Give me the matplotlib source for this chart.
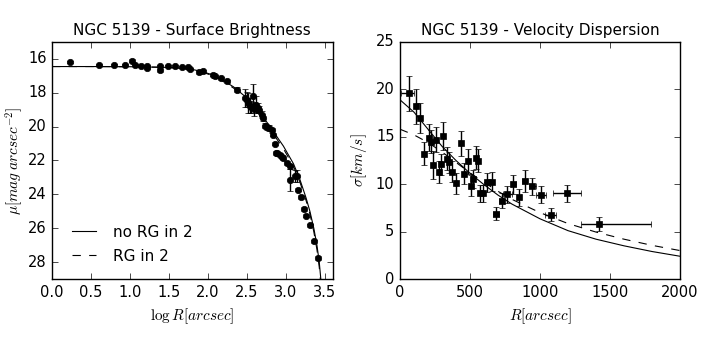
import numpy as np
import matplotlib
matplotlib.use("Agg")
import matplotlib.pyplot as plt

plt.style.use("classic")

# ---- surface brightness data (log R, mu, err) ----
sb_logr = [0.23, 0.60, 0.80, 0.94, 1.03, 1.06, 1.14, 1.22, 1.22, 1.39, 1.39, 1.49, 1.58,
           1.67, 1.75, 1.77, 1.89, 1.94, 2.07, 2.09, 2.17, 2.24, 2.37, 2.48, 2.50, 2.52,
           2.54, 2.56, 2.58, 2.59, 2.62, 2.64, 2.66, 2.69, 2.71, 2.74, 2.76, 2.79, 2.82,
           2.84, 2.86, 2.88, 2.89, 2.93, 2.95, 2.97, 3.01, 3.06, 3.06, 3.12, 3.15, 3.16,
           3.19, 3.23, 3.26, 3.31, 3.36, 3.41]
sb_mu = [16.20, 16.33, 16.37, 16.33, 16.10, 16.33, 16.40, 16.40, 16.53, 16.40, 16.63, 16.43,
         16.43, 16.47, 16.50, 16.60, 16.79, 16.73, 16.93, 17.02, 17.14, 17.32, 17.81, 18.30,
         18.40, 18.60, 18.76, 18.84, 18.20, 18.96, 18.70, 18.90, 19.00, 19.30, 19.50, 19.94,
         20.04, 20.08, 20.22, 20.47, 21.00, 21.55, 21.56, 21.65, 21.77, 21.83, 22.15, 22.35,
         23.13, 22.94, 22.94, 23.72, 24.15, 24.86, 25.26, 25.83, 26.78, 27.76]
sb_err = [0.05, 0.05, 0.05, 0.05, 0.08, 0.05, 0.05, 0.05, 0.08, 0.05, 0.15, 0.05, 0.05,
          0.05, 0.05, 0.08, 0.08, 0.08, 0.08, 0.08, 0.08, 0.08, 0.15, 0.55, 0.45, 0.60,
          0.45, 0.35, 0.70, 0.40, 0.50, 0.30, 0.20, 0.20, 0.15, 0.15, 0.15, 0.15, 0.15,
          0.10, 0.10, 0.10, 0.10, 0.10, 0.10, 0.10, 0.10, 0.15, 0.65, 0.35, 0.35, 0.10,
          0.10, 0.10, 0.10, 0.10, 0.10, 0.10]

# model curves
sb_mod_x = [0.0, 0.5, 1.0, 1.5, 1.8, 1.93, 2.1, 2.33, 2.5, 2.59, 2.76, 2.97, 3.1, 3.18,
            3.26, 3.31, 3.36, 3.40, 3.43, 3.45]
sb_nog_y = [16.45, 16.45, 16.46, 16.5, 16.62, 16.75, 17.0, 17.65, 18.3, 18.75, 19.75,
            21.15, 22.2, 23.1, 24.2, 25.0, 26.0, 27.0, 28.0, 29.0]
sb_rg_y = [16.45, 16.45, 16.46, 16.5, 16.63, 16.78, 17.05, 17.72, 18.4, 18.88, 19.9,
           21.3, 22.35, 23.25, 24.35, 25.15, 26.2, 27.25, 28.3, 29.3]

# ---- velocity dispersion data ----
vd_r = [67, 114, 143, 174, 207, 219, 238, 257, 279, 293, 310, 333, 352, 374, 400, 433,
        460, 486, 505, 519, 540, 555, 574, 595, 624, 655, 688, 726, 767, 810, 848, 890,
        943, 1005, 1076, 1195, 1421]
vd_sig = [19.6, 18.2, 17.0, 13.2, 14.9, 14.5, 12.0, 14.7, 11.3, 12.1, 15.1, 12.7, 12.3,
          11.3, 10.1, 14.3, 11.1, 12.4, 9.85, 10.55, 12.8, 12.5, 9.05, 9.05, 10.2, 10.25,
          6.9, 8.25, 8.95, 10.0, 8.6, 10.35, 9.8, 8.9, 6.8, 9.05, 5.8]
vd_err = [1.85, 1.8, 1.6, 1.2, 1.4, 1.2, 1.5, 1.3, 1.2, 1.1, 1.5, 1.2, 1.1, 1.1, 1.1, 1.3,
          1.1, 1.3, 1.1, 1.0, 1.2, 1.2, 0.9, 0.9, 1.0, 1.0, 0.7, 0.8, 0.9, 1.0, 0.9, 1.2,
          0.9, 0.9, 0.7, 0.9, 0.7]
vd_xlo = [60, 5, 5, 5, 5, 5, 5, 5, 5, 5, 5, 5, 5, 5, 5, 5, 5, 5, 5, 5, 5, 5, 5, 5, 5,
          5, 22, 20, 30, 20, 15, 20, 25, 35, 40, 100, 131]
vd_xhi = [35, 5, 5, 5, 5, 5, 5, 5, 5, 5, 5, 5, 5, 5, 5, 5, 5, 5, 5, 5, 5, 5, 5, 5, 5,
          5, 22, 20, 30, 20, 15, 20, 25, 35, 40, 100, 372]

vd_mod_x = [0, 100, 200, 300, 400, 500, 600, 700, 800, 1000, 1200, 1400, 1600, 1800, 2000]
vd_nog_y = [18.9, 17.6, 15.8, 14.0, 12.5, 11.15, 9.95, 8.85, 7.9, 6.35, 5.1, 4.2, 3.5,
            2.9, 2.4]
vd_rg_y = [15.8, 15.2, 14.4, 13.4, 12.3, 11.2, 10.2, 9.25, 8.4, 7.0, 5.85, 4.95, 4.2,
           3.55, 3.0]

fig = plt.figure(figsize=(7.06, 3.42), dpi=100, facecolor="white")
ax1 = fig.add_axes([52 / 706, 1 - 279 / 342, 280.5 / 706, 237 / 342])
ax2 = fig.add_axes([400 / 706, 1 - 279 / 342, 280 / 706, 237 / 342])

fs = 10.5

# left: surface brightness
ax1.errorbar(sb_logr, sb_mu, yerr=sb_err, fmt="o", color="k", ms=4.6, mec="k",
             ecolor="k", elinewidth=1, capsize=2.5)
ax1.plot(sb_mod_x, sb_nog_y, "k-", lw=0.8, label="no RG in 2")
ax1.plot(sb_mod_x, sb_rg_y, "k--", lw=0.8, label="RG in 2")
ax1.set_xlim(0, 3.6)
ax1.set_ylim(29, 15)
ax1.set_xticks(np.arange(0, 3.51, 0.5))
ax1.set_yticks(np.arange(16, 28.1, 2))
ax1.set_title("NGC 5139 - Surface Brightness", fontsize=fs + 0.5)
ax1.set_xlabel(r"$\log R [arcsec]$", fontsize=fs + 0.5)
ax1.set_ylabel(r"$\mu [mag\; arcsec^{-2}]$", fontsize=fs + 0.5, labelpad=2)
ax1.tick_params(labelsize=fs)
ax1.legend(loc="lower left", frameon=False, fontsize=fs + 0.5, handlelength=2.2,
           borderaxespad=0.6, labelspacing=0.6)

# right: velocity dispersion
ax2.errorbar(vd_r, vd_sig, yerr=vd_err, xerr=[vd_xlo, vd_xhi], fmt="s", color="k",
             ms=4, mec="k", ecolor="k", elinewidth=1, capsize=2.5)
ax2.plot(vd_mod_x, vd_nog_y, "k-", lw=0.8)
ax2.plot(vd_mod_x, vd_rg_y, "k--", lw=0.8)
ax2.set_xlim(0, 2000)
ax2.set_ylim(0, 25)
ax2.set_xticks([0, 500, 1000, 1500, 2000])
ax2.set_yticks([0, 5, 10, 15, 20, 25])
ax2.set_title("NGC 5139 - Velocity Dispersion", fontsize=fs + 0.5)
ax2.set_xlabel(r"$R [arcsec]$", fontsize=fs + 0.5)
ax2.set_ylabel(r"$\sigma [km/s]$", fontsize=fs + 0.5)
ax2.tick_params(labelsize=fs)

fig.savefig("out.png", dpi=100, facecolor="white")
